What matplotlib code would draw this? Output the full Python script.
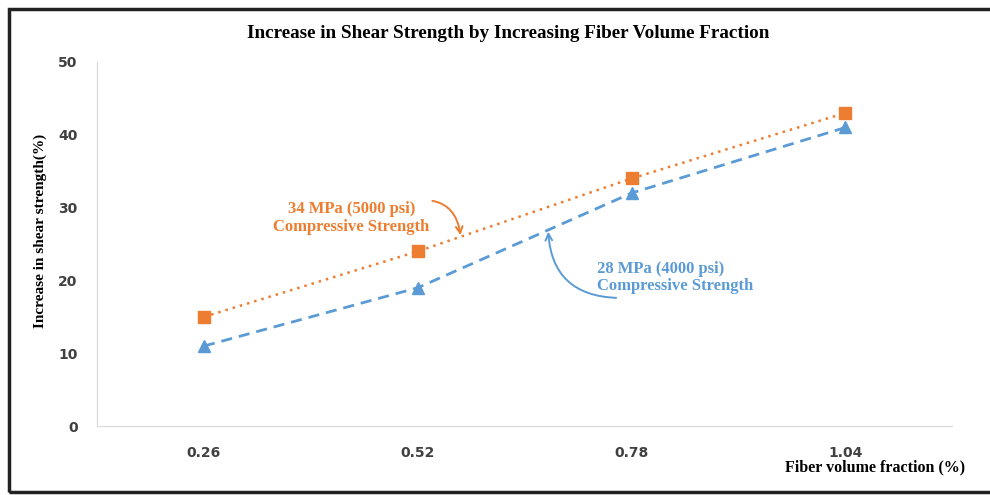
import matplotlib.pyplot as plt
from matplotlib.patches import Rectangle

# data
fractions = ['0.26', '0.52', '0.78', '1.04']
strength_34 = [15, 24, 34, 43]   # 34 MPa (5000 psi)
strength_28 = [11, 19, 32, 41]   # 28 MPa (4000 psi)

orange = '#ED7D31'
blue = '#5B9BD5'
serif = ['Liberation Serif', 'DejaVu Serif']

fig = plt.figure(figsize=(9.9, 4.95), dpi=100)
ax = fig.add_axes([0.098, 0.139, 0.864, 0.736])

x = list(range(len(fractions)))
ax.plot(x, strength_34, color=orange, linestyle=(0, (1, 2)), linewidth=1.8,
        marker='s', markersize=8.5)
ax.plot(x, strength_28, color=blue, linestyle=(0, (4, 2.5)), linewidth=2,
        marker='^', markersize=8.5)

ax.set_xlim(-0.5, 3.5)
ax.set_ylim(0, 50)
ax.set_xticks(x)
ax.set_xticklabels(fractions)
ax.set_yticks(range(0, 51, 10))
ax.tick_params(length=0, labelsize=10, pad=14)
for lab in ax.get_xticklabels() + ax.get_yticklabels():
    lab.set_fontweight('bold')
    lab.set_color('#404040')
for s in ['top', 'right']:
    ax.spines[s].set_visible(False)
for s in ['left', 'bottom']:
    ax.spines[s].set_color('#d9d9d9')

ax.set_ylabel('Increase in shear strength(%)', fontfamily=serif,
              fontweight='bold', fontsize=11, labelpad=12)
ax.yaxis.set_label_coords(-0.059, 0.535)
fig.text(0.975, 0.055, 'Fiber volume fraction (%)', ha='right', va='center',
         fontfamily=serif, fontweight='bold', fontsize=11.5)
fig.text(0.513, 0.933, 'Increase in Shear Strength by Increasing Fiber Volume Fraction',
         ha='center', va='center', fontfamily=serif, fontweight='bold', fontsize=13.8)

# annotations
ax.annotate('34 MPa (5000 psi)\nCompressive Strength', xy=(1.2, 26.2),
            xytext=(0.69, 28.6), textcoords='data', ha='center', va='center',
            fontfamily=serif, fontweight='bold', fontsize=12, color=orange,
            linespacing=1.15,
            arrowprops=dict(arrowstyle='->', color=orange, lw=1.4,
                            connectionstyle='arc3,rad=-0.5',
                            shrinkA=0, shrinkB=0, relpos=(0.9, 1.0)))
ax.annotate('28 MPa (4000 psi)\nCompressive Strength', xy=(1.61, 26.7),
            xytext=(1.84, 20.4), textcoords='data', ha='left', va='center',
            fontfamily=serif, fontweight='bold', fontsize=12, color=blue,
            linespacing=1.15,
            arrowprops=dict(arrowstyle='->', color=blue, lw=1.4,
                            connectionstyle='arc3,rad=-0.45',
                            shrinkA=0, shrinkB=0, relpos=(0.12, -0.1)))

# frame around the figure
fig.patches.append(Rectangle((0.009, 0.006), 1.2, 0.976, transform=fig.transFigure,
                             fill=False, edgecolor='#222222', linewidth=2.5))

fig.savefig('out.png', dpi=100)
